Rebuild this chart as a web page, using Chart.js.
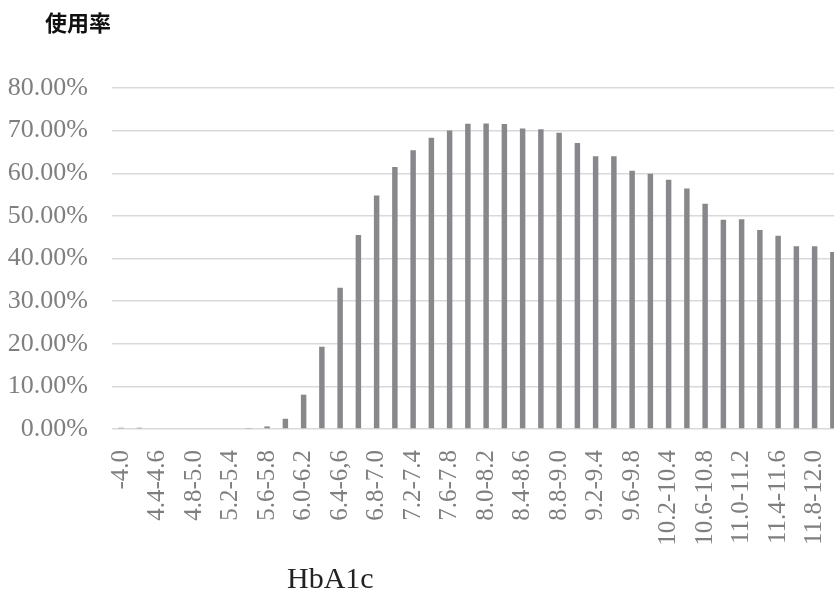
<!DOCTYPE html>
<html>
<head>
<meta charset="utf-8">
<script src="https://cdn.jsdelivr.net/npm/chart.js@4"></script>
<style>
  html, body { margin: 0; padding: 0; background: #fff; overflow: hidden; }
  #wrap { position: relative; width: 860px; height: 589px; }
</style>
</head>
<body>
<div id="wrap"><canvas id="bar_chart"></canvas></div>
<script>
const hba1cLabels = [
  '-4.0', '4.0-4.4', '4.4-4.6', '4.6-4.8', '4.8-5.0', '5.0-5.2', '5.2-5.4', '5.4-5.6',
  '5.6-5.8', '5.8-6.0', '6.0-6.2', '6.2-6.4', '6.4-6,6', '6.6-6.8', '6.8-7.0', '7.0-7.2',
  '7.2-7.4', '7.4-7.6', '7.6-7.8', '7.8-8.0', '8.0-8.2', '8.2-8.4', '8.4-8.6', '8.6-8.8',
  '8.8-9.0', '9.0-9.2', '9.2-9.4', '9.4-9.6', '9.6-9.8', '9.8-10.2', '10.2-10.4', '10.4-10.6',
  '10.6-10.8', '10.8-11.0', '11.0-11.2', '11.2-11.4', '11.4-11.6', '11.6-11.8', '11.8-12.0', '12.0-'
];

const usageRate = [
  0.3, 0.3, 0, 0, 0, 0, 0, 0.1,
  0.6, 2.4, 8.05, 19.3, 33.15, 45.5, 54.8, 61.45,
  65.4, 68.3, 70.05, 71.6, 71.7, 71.55, 70.5, 70.3,
  69.5, 67.1, 64.0, 64.0, 60.6, 59.9, 58.5, 56.45,
  52.85, 49.1, 49.2, 46.7, 45.35, 42.9, 42.9, 41.5
];

const yTitle = '使用率';
const xTitle = 'HbA1c';

const grey = '#7f7f7f';
const serif = '"Liberation Serif", "DejaVu Serif", serif';

// titles sit outside the axes, so draw them by hand
const titlesPlugin = {
  id: 'titles',
  afterDraw(chart) {
    const ctx = chart.ctx;
    ctx.save();
    ctx.fillStyle = '#111';
    ctx.font = 'bold 22px "Noto Sans CJK JP", sans-serif';
    ctx.textAlign = 'left';
    ctx.textBaseline = 'middle';
    ctx.fillText(yTitle, 45, 23);
    ctx.fillStyle = '#222';
    ctx.font = '30px ' + serif;
    ctx.textBaseline = 'alphabetic';
    ctx.fillText(xTitle, 287, 588);
    ctx.restore();
  }
};

const config = {
  type: 'bar',
  data: {
    labels: hba1cLabels,
    datasets: [{
      label: yTitle,
      data: usageRate,
      backgroundColor: '#88888c',
      categoryPercentage: 1,
      barPercentage: 0.3
    }]
  },
  options: {
    responsive: true,
    maintainAspectRatio: false,
    animation: false,
    layout: {
      // canvas is wider than the window: the plot runs past the right edge
      padding: { top: 88, right: 18, bottom: 0, left: 0 }
    },
    scales: {
      y: {
        min: 0,
        max: 80,
        ticks: {
          stepSize: 10,
          padding: 24,
          color: grey,
          font: { family: serif, size: 26 },
          callback: (v) => v.toFixed(2) + '%'
        },
        grid: { color: '#d9d9d9', lineWidth: 1.5, drawTicks: false },
        border: { display: false },
        afterFit: (scale) => { scale.width = 112; }
      },
      x: {
        ticks: {
          autoSkip: false,
          minRotation: 90,
          maxRotation: 90,
          padding: 21,
          color: grey,
          font: { family: serif, size: 25 },
          callback: function (v, i) { return i % 2 === 0 ? hba1cLabels[i] : ''; }
        },
        grid: { display: false, drawTicks: false },
        border: { display: false },
        afterFit: (scale) => {
          scale.height = 160;
          scale.paddingLeft = 0;
          scale.paddingRight = 0;
        }
      }
    },
    plugins: {
      legend: { display: false },
      title: { display: false },
      tooltip: { enabled: false }
    }
  },
  plugins: [titlesPlugin]
};

barChart = new Chart(document.getElementById('bar_chart'), config);
</script>
</body>
</html>
